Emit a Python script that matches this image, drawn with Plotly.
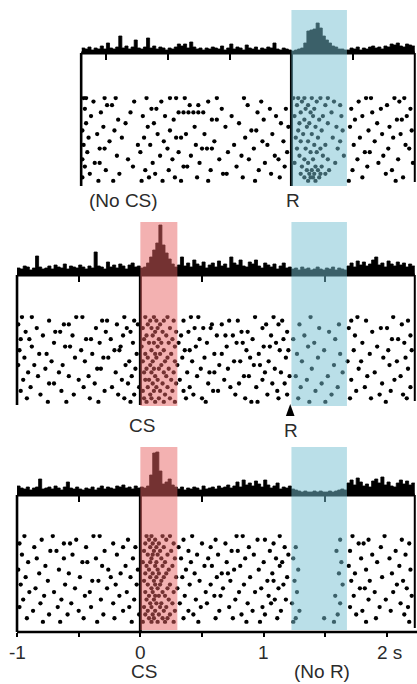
import plotly.graph_objects as go

# ---------------- data ----------------
BIN = 0.025  # s, PSTH bin width

# PSTH heights (impulses / bin, arbitrary units), bins start at the given time
p1_start = -0.475
p1_psth = [5, 4, 6, 3, 5, 4, 7, 4, 10,
           5, 4, 6, 17, 5, 7, 4, 6, 13, 5,
           4, 6, 15, 5, 7, 4, 6, 5, 3, 5,
           4, 6, 9, 7, 9, 5, 11, 6, 4, 5,
           3, 5, 4, 6, 5, 4, 7, 3, 5, 9,
           4, 6, 5, 3, 8, 5, 4, 6, 3, 5,
           4, 6, 5, 10, 4, 3, 5, 4, 3,
           2, 3, 4, 5, 10, 22, 23, 24, 30, 25, 17, 13, 10, 7, 6, 4, 4, 3,
           3, 5, 4, 6, 3, 5, 4, 6, 7, 5, 6, 4, 7, 6, 9, 8, 10, 7, 6, 9, 8, 7]

p2_start = -1.0
p2_psth = [7, 6, 9, 8, 5, 7, 19, 8, 6, 7,
           9, 6, 10, 8, 7, 11, 6, 9, 8, 7,
           10, 8, 6, 9, 7, 23, 9, 8, 6, 13,
           8, 10, 7, 11, 9, 6, 10, 12, 8, 9,
           7, 8, 12, 18, 25, 32, 50, 30, 22, 16, 11, 8,
           10, 18, 9, 12, 8, 15, 11, 9, 13, 7, 10, 12, 8, 14, 9, 11, 7, 18, 12,
           10, 15, 9, 8, 13, 11, 15, 9, 7, 12, 10, 8, 11, 6, 9, 12, 7, 8,
           6, 7, 5, 8, 6, 7, 5, 6, 8, 6, 5, 7, 6, 8, 5, 7, 6, 5,
           9, 12, 8, 14, 10, 13, 9, 11, 15, 18, 10, 12, 8, 14, 11, 9, 13, 10, 12, 8, 11, 9]

p3_start = -1.0
p3_psth = [9, 7, 6, 8, 5, 7, 8, 16, 6, 7,
           8, 6, 9, 7, 5, 8, 13, 7, 6, 8,
           6, 5, 7, 6, 8, 5, 7, 9, 6, 8,
           7, 6, 9, 8, 10, 7, 8, 6, 9, 7,
           8, 7, 9, 20, 42, 43, 24, 11, 13, 16, 10, 8,
           6, 8, 5, 7, 6, 8, 7, 5, 9, 6, 7, 8, 6, 9, 7, 8, 10, 7, 9,
           13, 8, 15, 10, 12, 9, 14, 11, 8, 15, 10, 7, 9, 12, 6, 8, 7, 9,
           6, 5, 4, 3, 4, 3, 3, 4, 3, 4, 3, 3, 4, 3, 4, 5, 6, 5,
           12, 15, 10, 17, 13, 9, 11, 8, 14, 16, 12, 18, 10, 13, 9, 8, 12, 15, 11, 14, 10, 12]

# raster: spike times (s) per trial
p1_trials = [
    [-0.46, -0.44, -0.29, -0.20, 0.05, 0.24, 0.29, 0.36, 0.62, 0.84, 1.24, 1.28, 1.33, 1.39, 1.46, 1.52, 1.83, 1.87, 2.06, 2.14],
    [-0.38, -0.05, 0.17, 0.55, 0.98, 1.31, 1.43, 1.57, 1.77, 2.10],
    [-0.27, -0.23, 0.40, 0.47, 0.87, 1.27, 1.36, 1.50, 1.62, 2.00],
    [-0.45, 0.09, 0.13, 0.66, 1.05, 1.18, 1.34, 1.41, 1.71, 1.95, 2.19],
    [-0.32, -0.08, 0.31, 0.35, 0.39, 0.43, 0.47, 0.51, 0.95, 1.30, 1.38, 1.55, 1.88],
    [-0.40, 0.02, 0.20, 0.74, 1.10, 1.25, 1.40, 1.48, 1.63, 1.80, 2.16],
    [-0.18, 0.27, 0.58, 0.62, 1.00, 1.33, 1.45, 1.74, 2.08, 2.12],
    [-0.44, -0.12, 0.11, 0.80, 1.14, 1.29, 1.37, 1.52, 1.92],
    [-0.30, 0.06, 0.44, 0.69, 1.20, 1.35, 1.42, 1.59, 1.70, 2.02],
    [-0.47, -0.21, 0.24, 0.90, 0.94, 1.28, 1.47, 1.64, 1.85, 2.20],
    [-0.35, 0.14, 0.37, 0.52, 1.07, 1.32, 1.39, 1.96, 2.11],
    [-0.42, -0.15, 0.03, 0.29, 0.33, 0.85, 1.26, 1.44, 1.56, 1.78, 2.05],
    [-0.25, 0.19, 0.60, 0.99, 1.16, 1.30, 1.36, 1.62, 1.90],
    [-0.46, -0.02, 0.08, 0.45, 0.76, 1.03, 1.41, 1.50, 1.73, 2.15],
    [-0.33, -0.29, 0.22, 0.50, 0.54, 0.58, 0.92, 1.27, 1.34, 1.46, 1.60, 2.01, 2.18],
    [-0.43, 0.00, 0.31, 0.71, 1.19, 1.38, 1.43, 1.82, 1.86],
    [-0.19, 0.16, 0.41, 0.82, 1.09, 1.29, 1.48, 1.65, 1.97],
    [-0.47, -0.10, 0.26, 0.64, 0.88, 1.12, 1.33, 1.40, 1.52, 1.76, 2.09],
    [-0.37, -0.33, 0.10, 0.48, 1.01, 1.25, 1.36, 1.58, 1.93, 2.21],
    [-0.45, -0.06, 0.35, 0.38, 0.78, 1.17, 1.31, 1.42, 1.47, 1.84],
    [-0.28, 0.04, 0.23, 0.57, 0.96, 1.35, 1.39, 1.44, 1.53, 1.72, 2.04],
    [-0.41, -0.17, 0.12, 0.67, 0.70, 1.06, 1.30, 1.37, 1.41, 1.46, 1.50, 1.99],
    [-0.47, 0.07, 0.28, 0.46, 0.83, 1.13, 1.33, 1.38, 1.40, 1.45, 1.80, 2.13],
    [-0.34, -0.22, 0.01, 0.18, 0.33, 0.55, 0.93, 1.36, 1.42, 1.69, 2.07],
]

p2_trials = [
    [-0.96, -0.88, -0.52, -0.47, -0.13, 0.04, 0.11, 0.22, 0.41, 0.47, 0.93, 1.08, 1.38, 1.76, 2.05],
    [-0.74, -0.31, -0.27, -0.05, 0.08, 0.13, 0.19, 0.27, 0.35, 0.72, 0.79, 1.15, 1.71, 1.83, 2.17],
    [-0.99, -0.62, -0.58, -0.19, -0.02, 0.06, 0.16, 0.58, 0.66, 1.02, 1.12, 1.29, 1.61, 2.12],
    [-0.84, -0.36, -0.11, 0.02, 0.09, 0.14, 0.24, 0.44, 0.51, 0.57, 0.99, 1.45, 1.69, 1.95, 2.00],
    [-0.93, -0.69, -0.65, -0.28, -0.08, 0.12, 0.18, 0.29, 0.39, 0.82, 0.87, 1.19, 1.53, 1.88],
    [-0.79, -0.55, -0.14, 0.05, 0.10, 0.21, 0.33, 0.62, 0.69, 0.75, 1.06, 1.33, 1.74, 2.19],
    [-0.97, -0.90, -0.44, -0.40, -0.24, 0.03, 0.15, 0.26, 0.48, 0.91, 1.16, 1.24, 1.58, 2.04, 2.09],
    [-0.70, -0.33, -0.06, 0.07, 0.11, 0.17, 0.23, 0.31, 0.54, 0.78, 0.83, 1.10, 1.41, 1.80, 2.14],
    [-0.88, -0.61, -0.57, -0.16, 0.01, 0.14, 0.28, 0.45, 0.70, 1.00, 1.05, 1.36, 1.92],
    [-0.98, -0.48, -0.21, -0.17, 0.09, 0.19, 0.36, 0.40, 0.86, 1.13, 1.20, 1.49, 1.73, 2.01, 2.20],
    [-0.82, -0.76, -0.39, -0.03, 0.04, 0.12, 0.16, 0.25, 0.60, 0.66, 0.96, 1.27, 1.62, 1.86],
    [-0.94, -0.53, -0.30, -0.26, 0.06, 0.13, 0.22, 0.34, 0.52, 0.89, 1.18, 1.44, 1.97, 2.15],
    [-0.72, -0.45, -0.09, 0.02, 0.10, 0.20, 0.28, 0.42, 0.76, 0.81, 1.04, 1.31, 1.68, 1.79, 2.08],
    [-0.99, -0.86, -0.63, -0.12, 0.08, 0.17, 0.30, 0.64, 0.92, 0.97, 1.57, 2.02],
    [-0.77, -0.35, -0.32, -0.04, 0.05, 0.11, 0.15, 0.23, 0.49, 0.71, 1.09, 1.39, 1.77, 2.17],
    [-0.91, -0.66, -0.20, 0.03, 0.09, 0.19, 0.27, 0.38, 0.56, 0.60, 1.01, 1.14, 1.64, 1.90],
    [-0.83, -0.58, -0.42, -0.07, 0.12, 0.21, 0.46, 0.84, 0.88, 1.21, 1.26, 1.52, 1.84, 2.11],
    [-0.95, -0.50, -0.15, 0.04, 0.07, 0.14, 0.25, 0.32, 0.68, 0.99, 1.35, 1.71, 2.06],
    [-0.74, -0.70, -0.37, -0.10, 0.10, 0.18, 0.29, 0.55, 0.80, 1.07, 1.17, 1.47, 1.96],
    [-0.89, -0.46, -0.23, -0.01, 0.06, 0.13, 0.22, 0.40, 0.73, 0.94, 1.30, 1.60, 1.82, 2.19],
    [-0.97, -0.64, -0.29, 0.02, 0.11, 0.16, 0.26, 0.35, 0.59, 0.63, 1.11, 1.42, 1.75, 2.03],
    [-0.81, -0.54, -0.18, -0.05, 0.08, 0.20, 0.43, 0.77, 1.03, 1.19, 1.55, 1.94, 2.13],
    [-0.92, -0.41, -0.13, 0.03, 0.09, 0.15, 0.24, 0.37, 0.50, 0.85, 1.12, 1.28, 1.70, 1.87, 2.16],
    [-0.75, -0.60, -0.34, -0.08, 0.05, 0.12, 0.19, 0.28, 0.53, 0.90, 0.95, 1.37, 1.50, 1.99],
]

p3_trials = [
    [-0.94, -0.71, -0.38, -0.33, 0.05, 0.09, 0.18, 0.24, 0.42, 0.78, 0.83, 1.13, 1.72, 1.98],
    [-0.80, -0.52, -0.10, 0.07, 0.12, 0.21, 0.35, 0.61, 0.95, 1.01, 1.62, 1.85, 2.12],
    [-0.98, -0.62, -0.57, -0.22, 0.04, 0.10, 0.15, 0.27, 0.50, 0.69, 1.08, 1.77, 1.81, 2.18],
    [-0.86, -0.44, -0.14, -0.04, 0.08, 0.13, 0.19, 0.31, 0.57, 0.88, 1.17, 1.26, 1.95],
    [-0.73, -0.68, -0.29, 0.03, 0.11, 0.16, 0.25, 0.39, 0.74, 0.79, 1.05, 1.59, 1.70, 2.07],
    [-0.96, -0.55, -0.19, 0.06, 0.10, 0.14, 0.22, 0.46, 0.63, 0.92, 1.20, 1.88, 2.15],
    [-0.84, -0.62, -0.36, -0.06, 0.09, 0.17, 0.28, 0.33, 0.55, 0.85, 1.10, 1.24, 1.79, 2.02],
    [-0.91, -0.47, -0.43, 0.02, 0.08, 0.13, 0.20, 0.41, 0.70, 1.00, 1.15, 1.63, 1.92],
    [-0.77, -0.31, -0.12, 0.05, 0.12, 0.18, 0.26, 0.52, 0.58, 0.81, 1.13, 1.69, 2.10],
    [-0.99, -0.66, -0.26, -0.02, 0.07, 0.14, 0.23, 0.37, 0.76, 0.96, 1.28, 1.83, 2.19],
    [-0.82, -0.58, -0.16, 0.04, 0.10, 0.15, 0.21, 0.44, 0.66, 0.71, 1.07, 1.61, 1.74, 2.04],
    [-0.93, -0.49, -0.24, -0.08, 0.08, 0.13, 0.19, 0.29, 0.34, 0.62, 0.89, 1.19, 1.96],
    [-0.75, -0.39, -0.34, 0.03, 0.11, 0.17, 0.48, 0.73, 1.03, 1.08, 1.25, 1.71, 1.86, 2.13],
    [-0.97, -0.61, -0.20, -0.03, 0.06, 0.12, 0.16, 0.24, 0.40, 0.57, 0.84, 1.16, 1.64, 2.08],
    [-0.85, -0.53, -0.27, 0.09, 0.14, 0.22, 0.30, 0.67, 0.98, 1.12, 1.78, 1.82, 2.16],
    [-0.90, -0.70, -0.41, -0.11, 0.04, 0.10, 0.18, 0.27, 0.53, 0.80, 0.93, 1.27, 1.90, 2.05],
    [-0.78, -0.45, -0.17, 0.07, 0.12, 0.15, 0.20, 0.36, 0.60, 0.65, 1.04, 1.58, 1.73, 2.20],
    [-0.95, -0.64, -0.32, -0.05, 0.05, 0.11, 0.23, 0.45, 0.77, 1.09, 1.18, 1.85, 1.99],
    [-0.81, -0.56, -0.22, 0.08, 0.13, 0.17, 0.26, 0.32, 0.54, 0.87, 1.06, 1.23, 1.62, 2.11],
    [-0.98, -0.67, -0.40, -0.09, 0.03, 0.09, 0.16, 0.21, 0.49, 0.72, 0.99, 1.70, 1.94, 2.17],
    [-0.87, -0.50, -0.14, 0.06, 0.12, 0.19, 0.28, 0.39, 0.64, 0.91, 1.14, 1.29, 1.80, 2.03],
    [-0.74, -0.59, -0.30, -0.01, 0.04, 0.10, 0.15, 0.24, 0.43, 0.82, 1.01, 1.60, 1.75, 2.14],
    [-0.92, -0.46, -0.21, 0.07, 0.11, 0.18, 0.22, 0.35, 0.61, 0.75, 1.11, 1.26, 1.49, 1.91],
    [-0.79, -0.65, -0.35, -0.07, 0.02, 0.09, 0.14, 0.20, 0.27, 0.47, 0.86, 0.97, 1.24, 1.57, 1.83, 2.18],
]

# events / windows (s)
CS_T = 0.0
CS_WIN = (0.0, 0.30)
R_T = 1.225
R_WIN = (1.225, 1.675)
axis_ticks = [-1, -0.5, 0, 0.5, 1, 1.5, 2]
axis_labels = ["-1", "0", "1", "2 s"]
axis_label_pos = [-1, 0, 1, 1.905]

# ---------------- layout helpers ----------------
W, H = 417, 684
MB = 52
PH = H - MB
X0, X1 = -1.138, 2.243
XL2 = -1.0      # left frame, panels 2/3
XL1 = -0.48     # left frame, panel 1
XR = 2.225      # right frame


def fy(p):
    return (PH - p) / PH


FONT = "Liberation Sans, Arial, sans-serif"
TXT = "#2b2b2b"

panels = [
    dict(start=p1_start, psth=p1_psth, trials=p1_trials, base=53, top=0, r0=98, r1=181, xl=XL1, ev=R_T,
         ptick=[-0.275, 0.225, 0.725, 1.725]),
    dict(start=p2_start, psth=p2_psth, trials=p2_trials, base=275, top=215, r0=317, r1=402, xl=XL2, ev=CS_T,
         ptick=[-0.5, 0.5, 1.5]),
    dict(start=p3_start, psth=p3_psth, trials=p3_trials, base=495, top=440, r0=536, r1=622, xl=XL2, ev=CS_T,
         ptick=[-0.5, 0.5, 1.5]),
]
frame_bottom = [186, 405, 632]

fig = go.Figure()
layout = dict(
    width=W, height=H, margin=dict(l=0, r=0, t=0, b=MB),
    paper_bgcolor="white", plot_bgcolor="white", showlegend=False,
    xaxis=dict(range=[X0, X1], anchor="free", position=0, showgrid=False, zeroline=False,
               showline=False, tickvals=axis_ticks, ticks="outside", ticklen=4, tickwidth=2,
               tickcolor="black", showticklabels=False),
)
shapes = []

for i, p in enumerate(panels):
    ya_psth = 2 * i + 1
    ya_rast = 2 * i + 2
    xa = i + 2
    n = len(p["trials"])
    layout[f"yaxis{ya_psth}"] = dict(domain=[fy(p["base"]), fy(p["top"])], range=[0, p["base"] - p["top"]],
                                    visible=False, fixedrange=True)
    layout[f"xaxis{xa}"] = dict(range=[X0, X1], anchor=f"y{ya_psth}", showgrid=False, zeroline=False,
                               showline=False, tickvals=p["ptick"], ticks="outside", ticklen=6, tickwidth=2,
                               tickcolor="black", showticklabels=False)
    sp = (p["r1"] - p["r0"]) / (n - 1)
    layout[f"yaxis{ya_rast}"] = dict(domain=[fy(p["r1"] + sp / 2), fy(p["r0"] - sp / 2)],
                                    range=[n + 0.5, 0.5], visible=False, fixedrange=True)
    # PSTH as a filled step outline
    edges = [p["start"] + BIN * k for k in range(len(p["psth"]) + 1)]
    hs = list(p["psth"]) + [p["psth"][-1]]
    fig.add_trace(go.Scatter(x=edges, y=hs, mode="lines", line=dict(color="black", width=0.8, shape="hv"),
                             fill="tozeroy", fillcolor="black", xaxis=f"x{xa}", yaxis=f"y{ya_psth}"))
    rx, ry = [], []
    for t_i, tr in enumerate(p["trials"]):
        rx += tr
        ry += [t_i + 1] * len(tr)
    fig.add_trace(go.Scatter(x=rx, y=ry, mode="markers", marker=dict(color="black", size=4.3),
                             xaxis="x", yaxis=f"y{ya_rast}"))
    line = dict(color="black", width=2.6)
    shapes.append(dict(type="line", xref="x", yref="paper", x0=p["xl"], x1=XR, y0=fy(p["base"]), y1=fy(p["base"]),
                       line=dict(color="black", width=3), layer="above"))
    shapes.append(dict(type="line", xref="x", yref="paper", x0=p["xl"], x1=p["xl"], y0=fy(p["base"]),
                       y1=fy(frame_bottom[i]), line=line, layer="above"))
    shapes.append(dict(type="line", xref="x", yref="paper", x0=XR, x1=XR, y0=fy(p["base"]),
                       y1=fy(frame_bottom[i] - 4), line=dict(color="black", width=2), layer="above"))
    shapes.append(dict(type="line", xref="x", yref="paper", x0=p["ev"], x1=p["ev"], y0=fy(p["base"]),
                       y1=fy(frame_bottom[i]), line=dict(color="black", width=3), layer="above"))

shapes.append(dict(type="line", xref="x", yref="paper", x0=-1.0, x1=X1, y0=0, y1=0,
                   line=dict(color="black", width=2.6), layer="above"))

shapes.append(dict(type="path", xref="x", yref="paper",
                   path=f"M {R_T-0.045},{fy(416)} L {R_T+0.025},{fy(416)} L {R_T-0.01},{fy(404)} Z",
                   fillcolor="black", line=dict(width=0), layer="above"))

RED = "rgb(232,100,100)"
BLUE = "rgb(118,192,210)"
bands = [
    (R_WIN, 10, 186, BLUE),
    (CS_WIN, 222, 406, RED),
    (R_WIN, 222, 406, BLUE),
    (CS_WIN, 447, 630, RED),
    (R_WIN, 447, 630, BLUE),
]
for (a, b), t, bt, c in bands:
    shapes.append(dict(type="rect", xref="x", yref="paper", x0=a, x1=b, y0=fy(bt), y1=fy(t),
                       fillcolor=c, opacity=0.5, line=dict(width=0), layer="above"))

layout["shapes"] = shapes

ann = []


def txt(s, x, p, anchor="center"):
    ann.append(dict(text=s, x=x, xref="x", y=fy(p), yref="paper", xanchor=anchor, yanchor="middle",
                    showarrow=False, font=dict(family=FONT, size=19, color=TXT)))


txt("(No CS)", -0.14, 200)
txt("R", 1.24, 200)
txt("CS", 0.01, 425)
txt("R", 1.225, 430)
for lab, pos in zip(axis_labels, axis_label_pos):
    txt(lab, pos, 652, "left" if lab == "2 s" else "center")
txt("CS", 0.03, 671)
txt("(No R)", 1.47, 671)
layout["annotations"] = ann

fig.update_layout(**layout)
fig.write_html("out.html", config={"displayModeBar": False, "staticPlot": True},
               post_script="document.body.style.margin='0';document.body.style.padding='0';"
                           "document.documentElement.style.overflow='hidden';")
